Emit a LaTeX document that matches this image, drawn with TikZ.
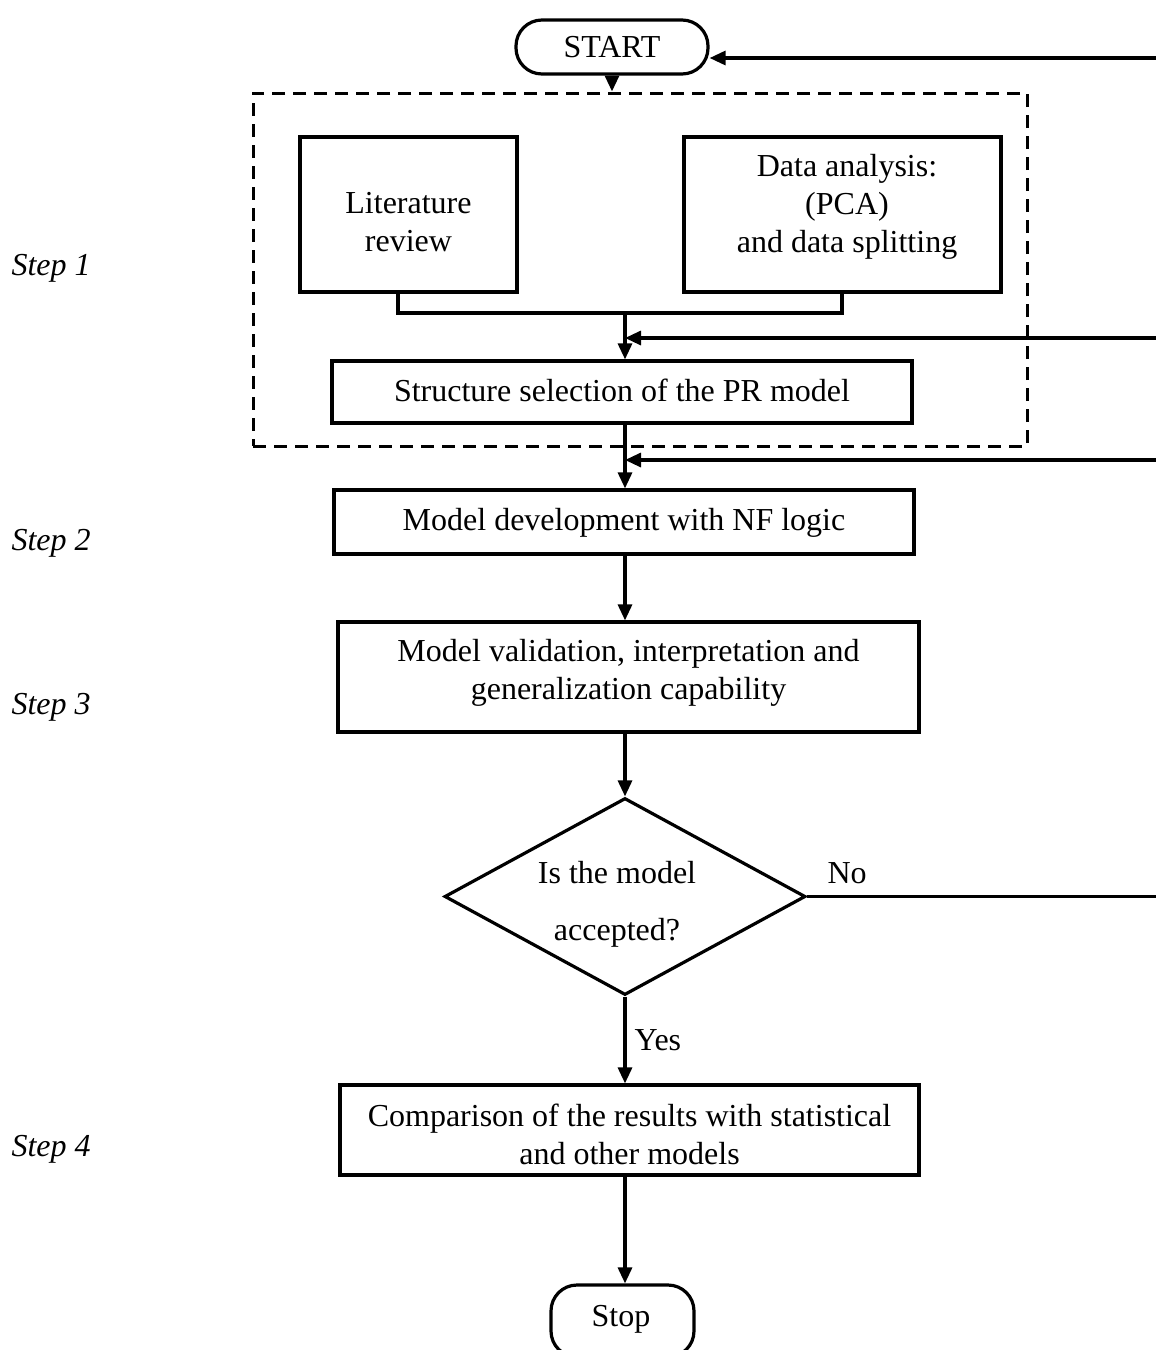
\documentclass[tikz,border=0pt]{standalone}
\usepackage{fontspec}
\setmainfont{Liberation Serif}
\usetikzlibrary{arrows.meta,shapes.geometric}
\begin{document}
\begin{tikzpicture}[x=0.5pt,y=-0.5pt,
  line width=1.6pt,
  font=\fontsize{16pt}{19pt}\selectfont,
  >={Triangle[length=8pt,width=7pt]},
  box/.style={draw,rectangle,align=center,inner sep=2pt},
  txt/.style={align=center,inner sep=0pt},
  term/.style={draw,rectangle,rounded corners=13pt,inner sep=2pt},
  decision/.style={draw,diamond,inner sep=0pt},
  steplabel/.style={anchor=west,inner sep=0pt,font=\fontsize{16pt}{19pt}\selectfont\itshape},
  flow/.style={->},
  groupbox/.style={draw,line width=1.5pt,dash pattern=on 6.5pt off 4pt}]
\useasboundingbox (0,0) rectangle (1156,1350);
\clip (0,0) rectangle (1156,1350);

% terminals
\node[term,minimum width=96pt,minimum height=27pt] (start) at (612,47) {START};
\node[term,minimum width=71.5pt,minimum height=36pt] (stop) at (622.5,1321) {};
\node[txt] (stoptext) at (621,1319) {Stop};

% step 1 group
\node[groupbox,minimum width=387pt,minimum height=176.5pt] (grp) at (640,269.5) {};
\node[box,minimum width=108.5pt,minimum height=77.5pt] (lit) at (408.5,214.5) {};
\node[txt] (littext) at (408.5,222) {Literature\\review};
\node[box,minimum width=158.5pt,minimum height=77.5pt] (data) at (842.5,214.5) {};
\node[txt] (datatext) at (847,207) {Data analysis:\\(PCA)\\and data splitting};
\node[box,minimum width=290pt,minimum height=31pt] (struct) at (622,392) {};
\node[txt] (structtext) at (622,390) {Structure selection of the PR model};

% remaining steps
\node[box,minimum width=290pt,minimum height=32pt] (dev) at (624,522) {};
\node[txt] (devtext) at (624,523) {Model development with NF logic};
\node[box,minimum width=290.5pt,minimum height=55pt] (valid) at (628.5,677) {};
\node[txt] (validtext) at (628.5,673) {Model validation, interpretation and\\generalization capability};
\node[decision,minimum width=180.5pt,minimum height=98.5pt] (accept) at (625,896.5) {};
\node[txt] (accepttext) at (617,904.5) {Is the model\\[9.5pt]accepted?};
\node[box,minimum width=289.5pt,minimum height=45pt] (comp) at (629.5,1130) {};
\node[txt] (comptext) at (629.5,1134) {Comparison of the results with statistical\\and other models};

% step labels
\node[steplabel] (s1) at (10,268) {Step 1};
\node[steplabel] (s2) at (10,543) {Step 2};
\node[steplabel] (s3) at (10,707) {Step 3};
\node[steplabel] (s4) at (10,1149) {Step 4};

% junction points
\coordinate (litb) at (398,292);
\coordinate (datab) at (842,292);
\coordinate (join) at (625,313);
\coordinate (fb1) at (625,338);
\coordinate (fb2) at (625,460);
\coordinate (r0) at (1160,58);
\coordinate (r1) at (1160,338);
\coordinate (r2) at (1160,460);
\coordinate (r3) at (1160,896.5);

% main flow
\draw[flow] (start.south -| 612,0) -- (grp.north -| start.south);
\draw (litb) |- (join) -| (datab);
\draw[flow] (join) -- (join |- struct.north);
\draw[flow] (struct.south -| join) -- (join |- dev.north);
\draw[flow] (dev.south -| join) -- (join |- valid.north);
\draw[flow] (valid.south -| join) -- (accept.north);
\draw[flow] (accept.south) -- (accept.south |- comp.north);
\node[anchor=west,inner sep=0pt] (yes) at (633,1040) {Yes};

% feedback paths
\draw (accept.east) -- (r3);
\node[anchor=west,inner sep=0pt] (no) at (826,873) {No};
\draw[flow] (r0) -- (r0 -| start.east);
\draw[flow] (r1) -- (fb1);
\draw[flow] (r2) -- (fb2);
\draw[flow] (comp.south -| join) -- (join |- stop.north);
\end{tikzpicture}
\end{document}
